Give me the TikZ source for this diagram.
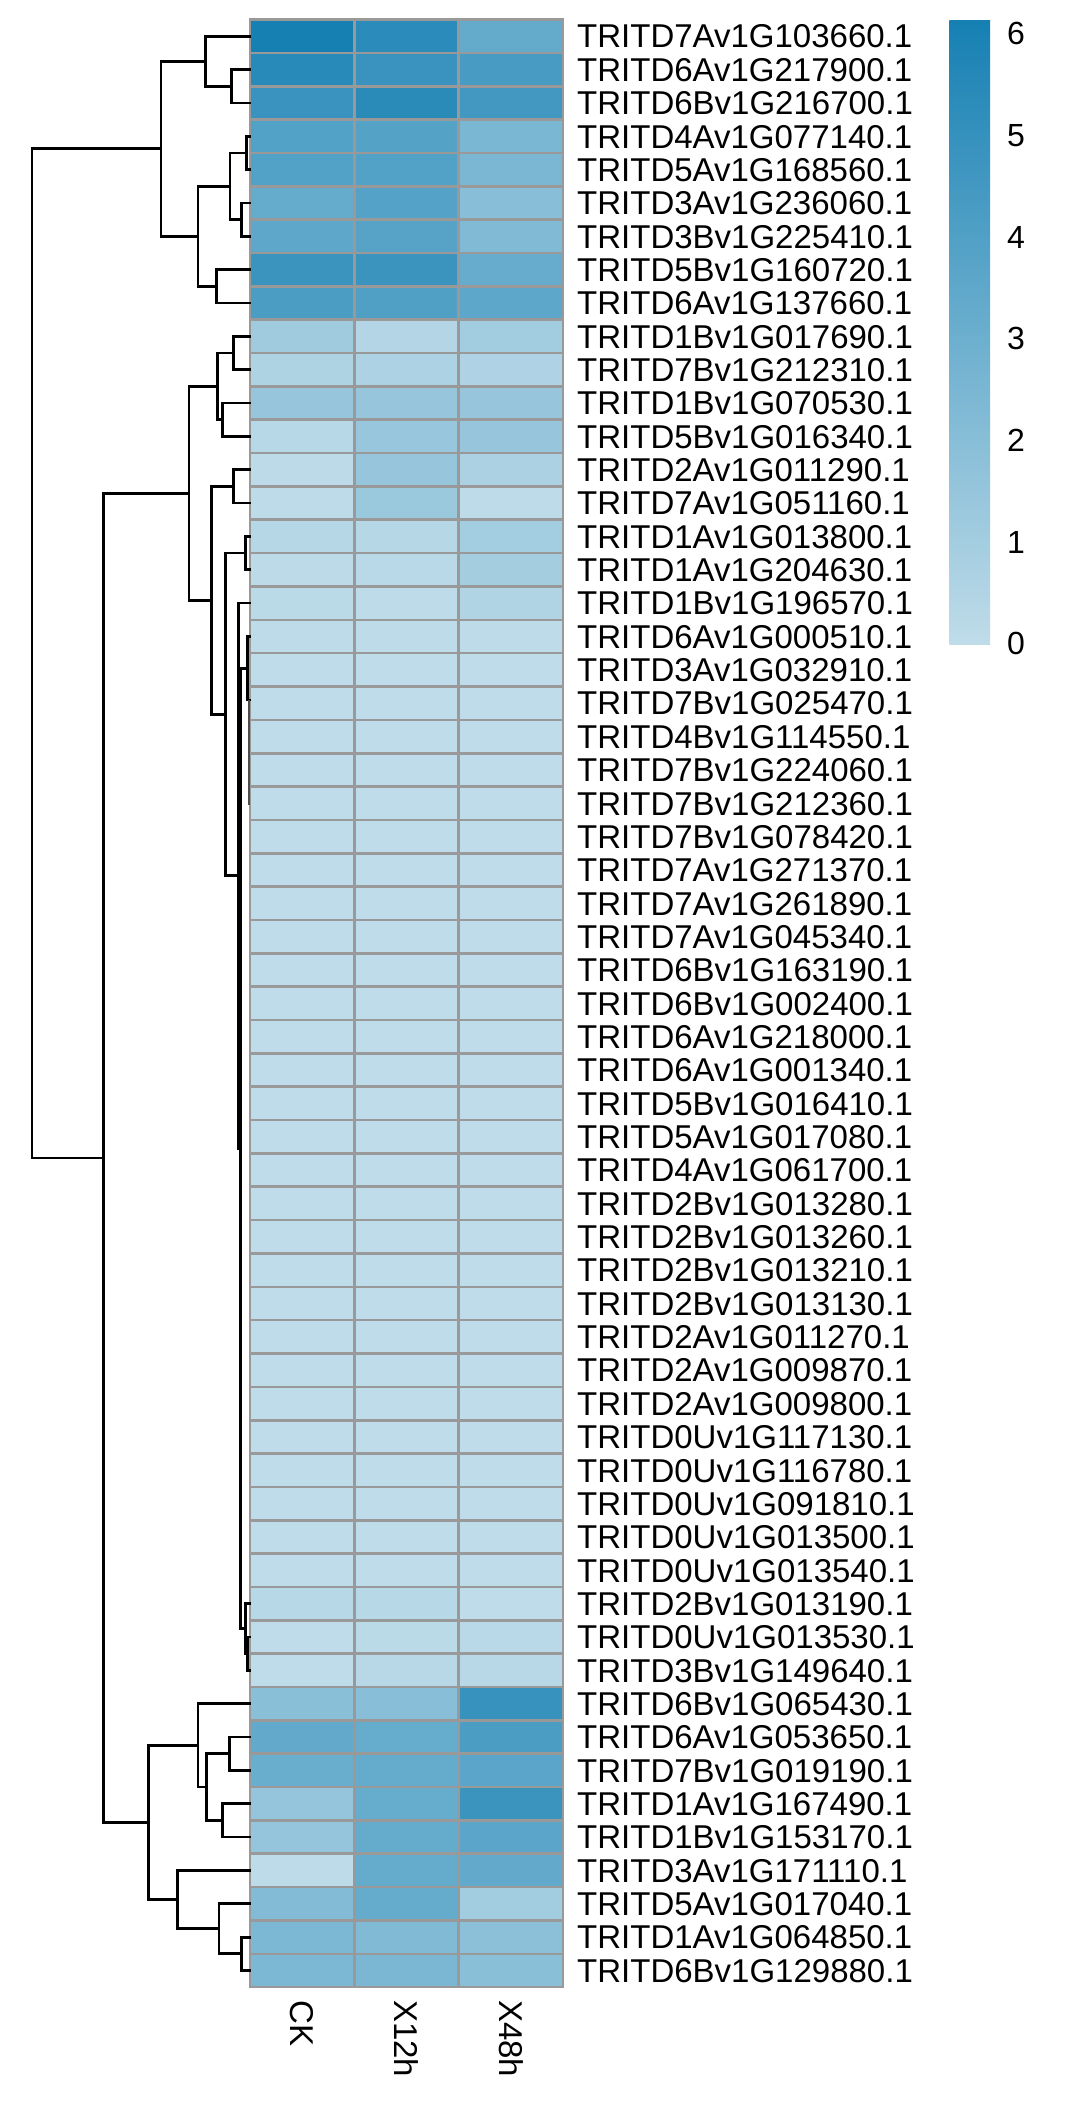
\documentclass[tikz,border=0pt]{standalone}
\usepackage{fontspec}
\setmainfont{Liberation Sans}
\definecolor{lowc}{RGB}{191,220,233}
\definecolor{highc}{RGB}{22,128,179}
\definecolor{gridc}{RGB}{153,153,153}
\tikzset{
  tree/.style={black, line width=2.7pt, line cap=rect, line join=miter},
  cellbox/.style={draw=gridc, line width=2.6pt},
  rowlab/.style={anchor=base west, inner sep=0pt, font=\fontsize{33}{36}\selectfont},
  collab/.style={anchor=west, rotate=-90, inner sep=0pt, font=\fontsize{33}{36}\selectfont},
  ticklab/.style={anchor=base west, inner sep=0pt, font=\fontsize{32}{36}\selectfont}
}
\newcommand{\mergeline}[5]{\draw[tree] (#3,#2) -- (#1,#2) -- (#1,#4) -- (#5,#4);}
\begin{document}
\begin{tikzpicture}[x=1pt,y=-1pt]
\useasboundingbox (0,0) rectangle (1067,2107);
% heatmap cells
\foreach \va/\vb/\vc [count=\i] in {
6.13/5.37/3.34, 5.48/4.86/4.32, 4.86/5.40/4.50, 3.95/3.84/2.50, 3.95/3.95/2.47,
3.30/3.88/2.00, 3.52/3.77/2.29, 4.82/4.82/3.19, 4.17/4.03/3.55, 1.12/0.44/1.05,
0.62/0.69/0.58, 1.45/1.45/1.45, 0.29/1.41/1.45, 0.11/1.45/0.73, 0.07/1.34/0.04,
0.36/0.33/1.02, 0.11/0.18/0.98, 0.15/0.07/0.54, 0.04/0.04/0.04, 0.03/0.03/0.03,
0.03/0.03/0.03, 0.03/0.03/0.03, 0.03/0.03/0.03, 0.03/0.03/0.03, 0.03/0.03/0.03,
0.03/0.03/0.03, 0.03/0.03/0.03, 0.03/0.03/0.03, 0.03/0.03/0.03, 0.03/0.03/0.03,
0.03/0.03/0.03, 0.03/0.03/0.03, 0.03/0.03/0.03, 0.03/0.03/0.03, 0.03/0.03/0.03,
0.03/0.03/0.03, 0.03/0.03/0.03, 0.03/0.03/0.03, 0.03/0.03/0.03, 0.03/0.03/0.03,
0.03/0.03/0.03, 0.03/0.03/0.03, 0.03/0.03/0.03, 0.03/0.03/0.03, 0.03/0.03/0.03,
0.03/0.03/0.03, 0.03/0.03/0.03, 0.29/0.29/0.03, 0.03/0.15/0.18, 0.03/0.25/0.25,
1.92/1.96/4.90, 3.37/3.23/4.21, 3.08/3.30/3.66, 1.52/3.23/4.82, 1.52/3.30/3.66,
0.07/3.26/3.37, 2.18/3.30/1.05, 2.43/2.29/1.89, 2.43/2.47/1.92}{
  \pgfmathsetmacro{\yt}{19.5+33.35*(\i-1)}
  \pgfmathsetmacro{\yb}{19.5+33.35*\i}
  \pgfmathsetmacro{\pa}{\va/6.13*100}
  \pgfmathsetmacro{\pb}{\vb/6.13*100}
  \pgfmathsetmacro{\pc}{\vc/6.13*100}
  \fill[highc!\pa!lowc] (250,\yt) rectangle (354.33,\yb);
  \fill[highc!\pb!lowc] (354.33,\yt) rectangle (458.67,\yb);
  \fill[highc!\pc!lowc] (458.67,\yt) rectangle (563,\yb);
}
\foreach \i in {1,...,59}{
  \pgfmathsetmacro{\yt}{19.5+33.35*(\i-1)}
  \pgfmathsetmacro{\yb}{19.5+33.35*\i}
  \draw[cellbox] (250,\yt) rectangle (354.33,\yb);
  \draw[cellbox] (354.33,\yt) rectangle (458.67,\yb);
  \draw[cellbox] (458.67,\yt) rectangle (563,\yb);
}
% row labels
\foreach \nm [count=\i] in {
TRITD7Av1G103660.1, TRITD6Av1G217900.1, TRITD6Bv1G216700.1, TRITD4Av1G077140.1,
TRITD5Av1G168560.1, TRITD3Av1G236060.1, TRITD3Bv1G225410.1, TRITD5Bv1G160720.1,
TRITD6Av1G137660.1, TRITD1Bv1G017690.1, TRITD7Bv1G212310.1, TRITD1Bv1G070530.1,
TRITD5Bv1G016340.1, TRITD2Av1G011290.1, TRITD7Av1G051160.1, TRITD1Av1G013800.1,
TRITD1Av1G204630.1, TRITD1Bv1G196570.1, TRITD6Av1G000510.1, TRITD3Av1G032910.1,
TRITD7Bv1G025470.1, TRITD4Bv1G114550.1, TRITD7Bv1G224060.1, TRITD7Bv1G212360.1,
TRITD7Bv1G078420.1, TRITD7Av1G271370.1, TRITD7Av1G261890.1, TRITD7Av1G045340.1,
TRITD6Bv1G163190.1, TRITD6Bv1G002400.1, TRITD6Av1G218000.1, TRITD6Av1G001340.1,
TRITD5Bv1G016410.1, TRITD5Av1G017080.1, TRITD4Av1G061700.1, TRITD2Bv1G013280.1,
TRITD2Bv1G013260.1, TRITD2Bv1G013210.1, TRITD2Bv1G013130.1, TRITD2Av1G011270.1,
TRITD2Av1G009870.1, TRITD2Av1G009800.1, TRITD0Uv1G117130.1, TRITD0Uv1G116780.1,
TRITD0Uv1G091810.1, TRITD0Uv1G013500.1, TRITD0Uv1G013540.1, TRITD2Bv1G013190.1,
TRITD0Uv1G013530.1, TRITD3Bv1G149640.1, TRITD6Bv1G065430.1, TRITD6Av1G053650.1,
TRITD7Bv1G019190.1, TRITD1Av1G167490.1, TRITD1Bv1G153170.1, TRITD3Av1G171110.1,
TRITD5Av1G017040.1, TRITD1Av1G064850.1, TRITD6Bv1G129880.1}{
  \pgfmathsetmacro{\yc}{19.5+33.35*(\i-0.5)+11.8}
  \node[rowlab] (lab\i) at (577,\yc) {\nm};
}
% column labels
\node[collab] (colCK) at (302.2,2000) {CK};
\node[collab] (col12) at (406.5,2000) {X12h};
\node[collab] (col48) at (510.8,2000) {X48h};
% dendrogram
\mergeline{231.7}{69.53}{250}{102.88}{250}
\mergeline{205.7}{36.18}{250}{86.2}{231.7}
\mergeline{246.7}{136.23}{250}{169.58}{250}
\mergeline{241.3}{202.93}{250}{236.28}{250}
\mergeline{230}{152.9}{246.7}{219.6}{241.3}
\mergeline{216.7}{269.63}{250}{302.98}{250}
\mergeline{198}{186.25}{230}{286.3}{216.7}
\mergeline{161}{61.19}{205.7}{236.28}{198}
\mergeline{233.3}{336.33}{250}{369.68}{250}
\mergeline{222.7}{403.03}{250}{436.38}{250}
\mergeline{217.3}{353.0}{233.3}{419.7}{222.7}
\mergeline{233.3}{469.73}{250}{503.08}{250}
\mergeline{245.7}{536.43}{250}{569.78}{250}
\mergeline{247.3}{636.48}{250}{700}{250}
\mergeline{247.7}{1636.98}{250}{1670.33}{250}
\mergeline{245.7}{1603.63}{250}{1653.65}{247.7}
\mergeline{240.8}{668.2}{247.3}{1628.64}{245.7}
\mergeline{238.3}{603.13}{250}{1148.4}{240.8}
\mergeline{225.7}{553.1}{245.7}{875.8}{238.3}
\mergeline{211.7}{486.4}{233.3}{714.45}{225.7}
\mergeline{189}{386.35}{217.3}{600.4}{211.7}
\mergeline{229.3}{1737.03}{250}{1770.38}{250}
\mergeline{222.3}{1803.73}{250}{1837.08}{250}
\mergeline{206.3}{1753.7}{229.3}{1820.4}{222.3}
\mergeline{198}{1703.68}{250}{1787.05}{206.3}
\mergeline{241.7}{1937.13}{250}{1970.48}{250}
\mergeline{219}{1903.78}{250}{1953.8}{241.7}
\mergeline{177.7}{1870.43}{250}{1928.8}{219}
\mergeline{148.3}{1745.37}{198}{1899.6}{177.7}
\mergeline{103.3}{493.4}{189}{1822.5}{148.3}
\mergeline{32}{148.73}{161}{1157.95}{103.3}
\draw[black!70, line width=1.2pt] (249,700) -- (249,805);
% colour legend
\shade[top color=highc, bottom color=lowc] (949.3,20) rectangle (990,644);
\foreach \v in {0,...,6}{
  \pgfmathsetmacro{\yv}{643.4-101.7*\v+11.5}
  \node[ticklab] (tick\v) at (1007,\yv) {\v};
}
\end{tikzpicture}
\end{document}
